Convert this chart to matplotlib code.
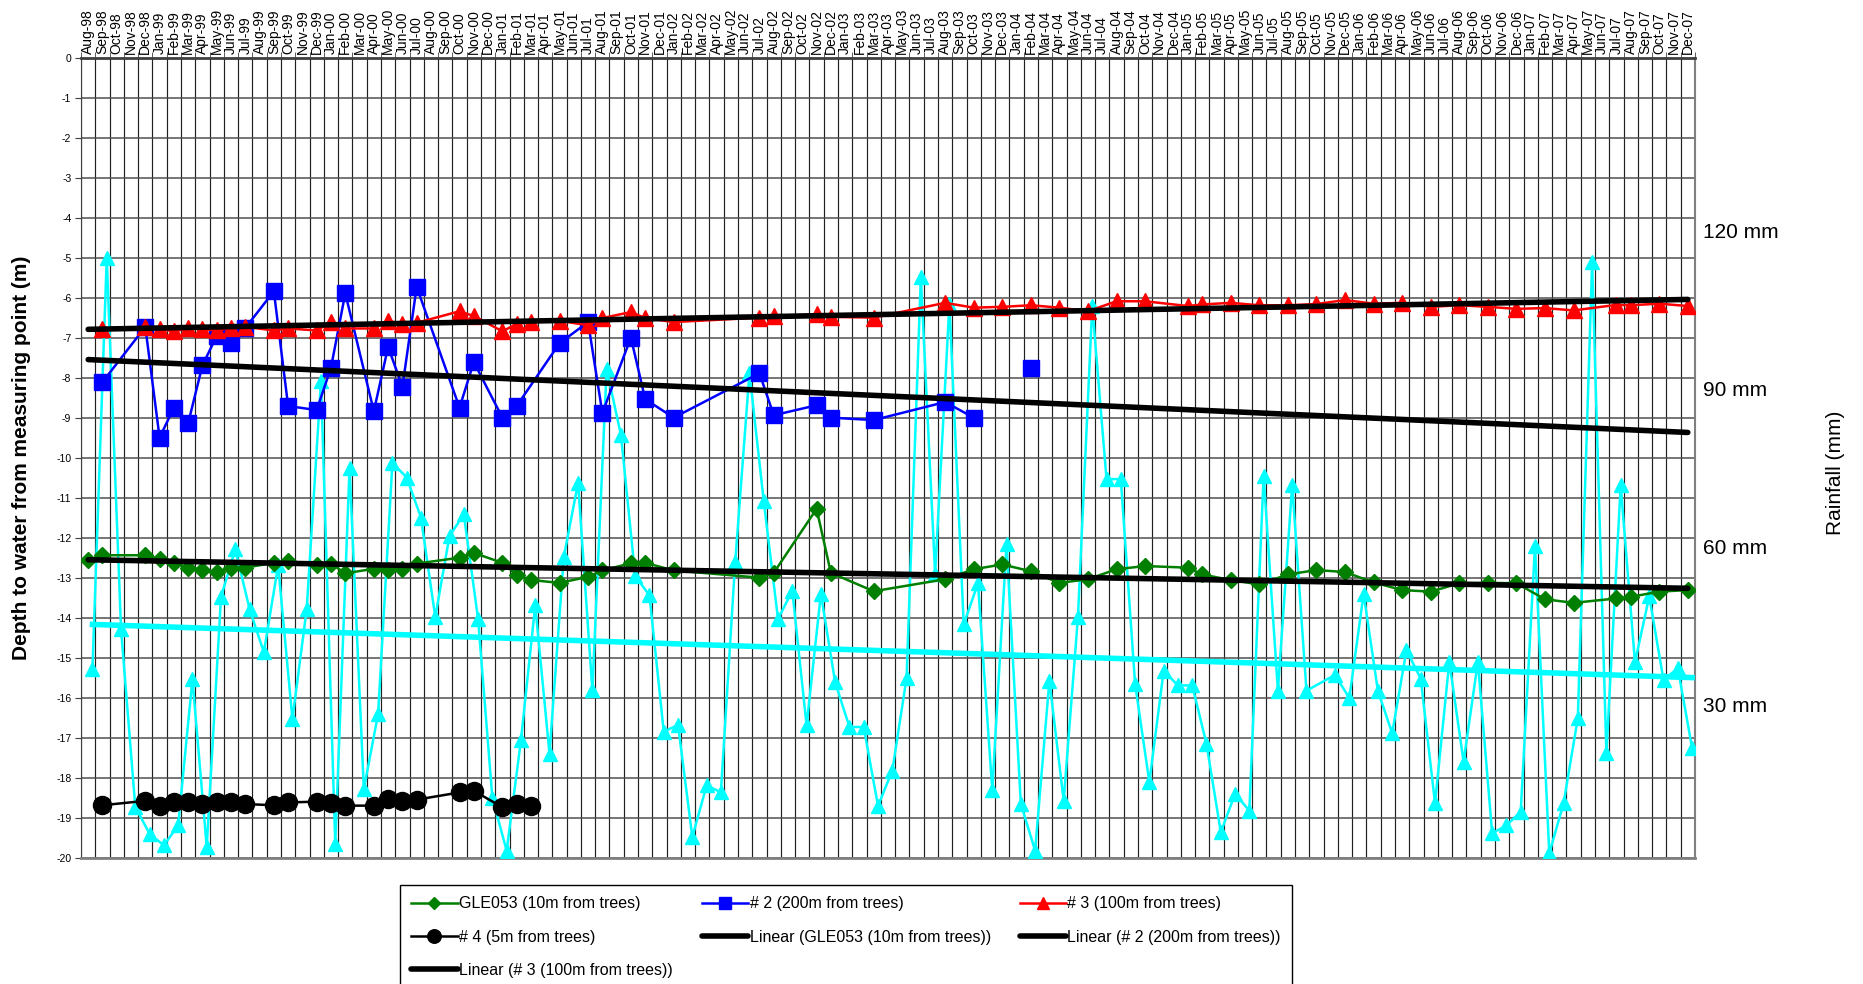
import numpy as np
import pandas as pd
import matplotlib
matplotlib.use("Agg")
import matplotlib.pyplot as plt
from matplotlib.transforms import blended_transform_factory

plt.rcParams['font.family'] = ['Liberation Sans', 'DejaVu Sans']

# month categories, Aug-98 .. Dec-07
months = pd.date_range('1998-08-01', '2007-12-01', freq='MS').strftime('%b-%y').tolist()

# depth to water (m), month index -> reading
gle_months = [0, 1, 4, 5, 6, 7, 8, 9, 10, 11, 13, 14, 16, 17, 18, 20, 21, 22, 23,
              26, 27, 29, 30, 31, 33, 35, 36, 38, 39, 41, 47, 48, 51, 52, 55, 60,
              62, 64, 66, 68, 70, 72, 74, 77, 78, 80, 82, 84, 86, 88, 90, 92, 94,
              96, 98, 100, 102, 104, 107, 108, 110, 112]
gle_depth = [-12.55, -12.43, -12.43, -12.52, -12.62, -12.74, -12.8, -12.85, -12.76, -12.74,
             -12.62, -12.58, -12.68, -12.64, -12.88, -12.77, -12.8, -12.78, -12.64,
             -12.49, -12.37, -12.62, -12.92, -13.05, -13.12, -12.97, -12.81, -12.63, -12.62, -12.81,
             -12.99, -12.87, -11.27, -12.87, -13.33, -13.03, -12.78, -12.66, -12.83, -13.12, -13.03,
             -12.78, -12.7, -12.74, -12.91, -13.05, -13.16, -12.91, -12.8, -12.85, -13.11, -13.3,
             -13.34, -13.13, -13.12, -13.13, -13.53, -13.62, -13.51, -13.47, -13.34, -13.3]

b2_months = [1, 4, 5, 6, 7, 8, 9, 10, 11, 13, 14, 16, 17, 18, 20, 21, 22, 23, 26, 27,
             29, 30, 33, 35, 36, 38, 39, 41, 47, 48, 51, 52, 55, 60, 62]
b2_depth = [-8.1, -6.72, -9.49, -8.74, -9.13, -7.68, -6.95, -7.13, -6.75, -5.83, -8.7,
            -8.8, -7.74, -5.88, -8.83, -7.22, -8.22, -5.72, -8.74, -7.6, -8.99, -8.7,
            -7.13, -6.6, -8.87, -6.99, -8.53, -8.99, -7.88, -8.93, -8.68, -8.99, -9.05,
            -8.6, -8.99]
b2_lone_month = [66]
b2_lone_depth = [-7.74]

b3_months = [1, 4, 5, 6, 7, 8, 9, 10, 11, 13, 14, 16, 17, 18, 20, 21, 22, 23, 26, 27,
             29, 30, 31, 33, 35, 36, 38, 39, 41, 47, 48, 51, 52, 55, 60, 62, 64, 66,
             68, 70, 72, 74, 77, 78, 80, 82, 84, 86, 88, 90, 92, 94, 96, 98, 100, 102,
             104, 107, 108, 110, 112]
b3_depth = [-6.78, -6.72, -6.78, -6.83, -6.76, -6.78, -6.81, -6.75, -6.72, -6.81, -6.76,
            -6.81, -6.6, -6.76, -6.76, -6.57, -6.64, -6.62, -6.33, -6.45, -6.83, -6.65,
            -6.6, -6.57, -6.68, -6.5, -6.35, -6.5, -6.6, -6.49, -6.45, -6.41, -6.47,
            -6.49, -6.12, -6.24, -6.22, -6.18, -6.24, -6.33, -6.08, -6.08, -6.2, -6.16,
            -6.12, -6.18, -6.18, -6.15, -6.05, -6.14, -6.12, -6.22, -6.18, -6.22, -6.27,
            -6.25, -6.31, -6.17, -6.18, -6.14, -6.2]

b4_months = [1, 4, 5, 6, 7, 8, 9, 10, 11, 13, 14, 16, 17, 18, 20, 21, 22, 23, 26, 27,
             29, 30, 31]
b4_depth = [-18.68, -18.57, -18.71, -18.61, -18.61, -18.65, -18.61, -18.61, -18.65,
            -18.68, -18.61, -18.59, -18.62, -18.69, -18.69, -18.53, -18.57, -18.54,
            -18.36, -18.32, -18.73, -18.65, -18.71]

# monthly rainfall (mm), Aug-98 .. Dec-07 (Jun-06 missing)
rain_mm = [35.9, 114.0, 43.5, 9.7, 4.6, 2.4, 6.2, 34.0, 2.1, 49.6,
           58.7, 47.3, 39.1, 55.6, 26.4, 47.3, 90.6, 2.7, 74.2, 13.1,
           27.4, 75.1, 72.3, 64.7, 45.8, 61.2, 65.3, 45.4, 11.4, 1.4,
           22.4, 48.0, 19.8, 57.2, 71.3, 31.9, 92.9, 80.4, 53.6, 49.9,
           24.0, 25.3, 4.0, 13.8, 12.5, 56.2, 92.2, 67.8, 45.4, 50.8,
           25.2, 50.2, 33.4, 24.9, 24.9, 9.9, 16.6, 34.2, 110.4, 54.0,
           105.3, 44.4, 52.2, 12.9, 59.7, 10.3, 1.4, 33.7, 10.9, 45.8,
           104.9, 72.0, 72.0, 33.1, 14.4, 35.6, 32.8, 32.8, 21.7, 4.9,
           12.2, 9.0, 72.6, 31.8, 70.9, 31.8, np.nan, 34.8, 30.4, 50.2,
           31.8, 23.7, 39.5, 34.1, 10.4, 37.3, 18.3, 37.3, 4.7, 6.2,
           8.8, 59.3, 0.9, 10.4, 26.6, 113.2, 19.9, 70.8, 37.2, 49.7,
           33.8, 36.1, 20.9]
rain_labels = [120, 90, 60, 30]

# rainfall is drawn on the depth axis: 0 mm at -20 m
MM_PER_M = 7.6


def rain_to_depth(r):
    return -20 + np.asarray(r, dtype=float) / MM_PER_M


n = len(months)
fig = plt.figure(figsize=(18.63, 9.84), dpi=100)
ax = fig.add_axes([0.0435, 0.128, 0.8663, 0.813])

# rainfall
x_rain = np.arange(n) + 0.5 + 0.3
rain_d = rain_to_depth(rain_mm)
ok = ~np.isnan(rain_d)
ax.plot(x_rain[ok], rain_d[ok], color='#00FFFF', lw=1.8, marker='^', ms=10,
        zorder=3)

green = '#007F00'
l_gle, = ax.plot(np.array(gle_months) + 0.5, gle_depth, color=green, lw=1.8,
                 marker='D', ms=8.5, zorder=4, label='GLE053 (10m from trees)')
l_b2, = ax.plot(np.array(b2_months) + 0.5, b2_depth, color='#0000FF', lw=1.8,
                marker='s', ms=12, zorder=4, label='# 2 (200m from trees)')
ax.plot(np.array(b2_lone_month) + 0.5, b2_lone_depth, color='#0000FF', ls='none',
        marker='s', ms=12, zorder=4)
l_b3, = ax.plot(np.array(b3_months) + 0.5, b3_depth, color='#FF0000', lw=1.8,
                marker='^', ms=12, zorder=4, label='# 3 (100m from trees)')
l_b4, = ax.plot(np.array(b4_months) + 0.5, b4_depth, color='black', lw=1.8,
                marker='o', ms=13, zorder=4, label='# 4 (5m from trees)')

# linear trends over the full period
xt = np.array([0.5, n - 0.5])


def trend(xs, ys):
    k, b = np.polyfit(xs, ys, 1)
    return k * xt + b


t_gle, = ax.plot(xt, trend(np.array(gle_months) + 0.5, gle_depth), color='black',
                 lw=4, solid_capstyle='round', zorder=5,
                 label='Linear (GLE053 (10m from trees))')
t_b2, = ax.plot(xt, trend(np.array(b2_months + b2_lone_month) + 0.5,
                          b2_depth + b2_lone_depth), color='black', lw=4,
                solid_capstyle='round', zorder=5,
                label='Linear (# 2 (200m from trees))')
t_b3, = ax.plot(xt, trend(np.array(b3_months) + 0.5, b3_depth), color='black',
                lw=4, solid_capstyle='round', zorder=5,
                label='Linear (# 3 (100m from trees))')
ax.plot(xt + 0.3, trend(x_rain[ok], rain_d[ok]), color='#00FFFF', lw=4, zorder=5)

# axes
ax.set_xlim(0, n)
ax.set_ylim(-20, 0)
ax.set_yticks(np.arange(-20, 1, 1))
ax.set_yticklabels([str(v) for v in range(-20, 1)], fontsize=7.5)
ax.xaxis.tick_top()
ax.set_xticks(np.arange(n) + 0.5)
ax.set_xticklabels(months, rotation=90, fontsize=10)
ax.set_xticks(np.arange(n + 1), minor=True)
ax.tick_params(axis='x', which='major', length=0, pad=3)
ax.tick_params(axis='x', which='minor', length=4, top=True, bottom=False,
               color='#404040')
ax.tick_params(axis='y', length=4, color='#404040', pad=3)
ax.set_axisbelow(True)
ax.grid(axis='y', which='major', color='#505050', lw=1.1)
ax.grid(axis='x', which='minor', color='#202020', lw=0.85)
ax.spines['top'].set_color('#404040')
ax.spines['top'].set_linewidth(2)
ax.spines['bottom'].set_color('#808080')
ax.spines['bottom'].set_linewidth(2)
ax.spines['right'].set_color('#808080')
ax.spines['right'].set_linewidth(1.5)
ax.spines['left'].set_color('#404040')

fig.text(0.0115, 0.535, 'Depth to water from measuring point (m)', rotation=90,
         ha='center', va='center', fontsize=15, fontweight='bold')
fig.text(0.985, 0.519, 'Rainfall (mm)', rotation=90, ha='center', va='center',
         fontsize=15)

tr = blended_transform_factory(ax.transAxes, ax.transData)
for r in rain_labels:
    ax.text(1.005, rain_to_depth(r) - 0.15, f'{r} mm', transform=tr,
            ha='left', va='center', fontsize=15)

# legend, filled row by row like the original
handles = [l_gle, l_b4, t_b3, l_b2, t_gle, l_b3, t_b2]
leg = ax.legend(handles=handles, labels=[h.get_label() for h in handles],
                loc='upper left', bbox_to_anchor=(400 / 1863, 1 - 885 / 984),
                bbox_transform=fig.transFigure, borderaxespad=0, ncol=3,
                fontsize=11.5, numpoints=1, markerscale=0.75, handlelength=2.9,
                handletextpad=0.1, columnspacing=1.8, labelspacing=1.15,
                borderpad=0.7, frameon=True, fancybox=False, framealpha=1,
                edgecolor='black')
leg.get_frame().set_linewidth(1)

fig.savefig('out.png', dpi=100)
